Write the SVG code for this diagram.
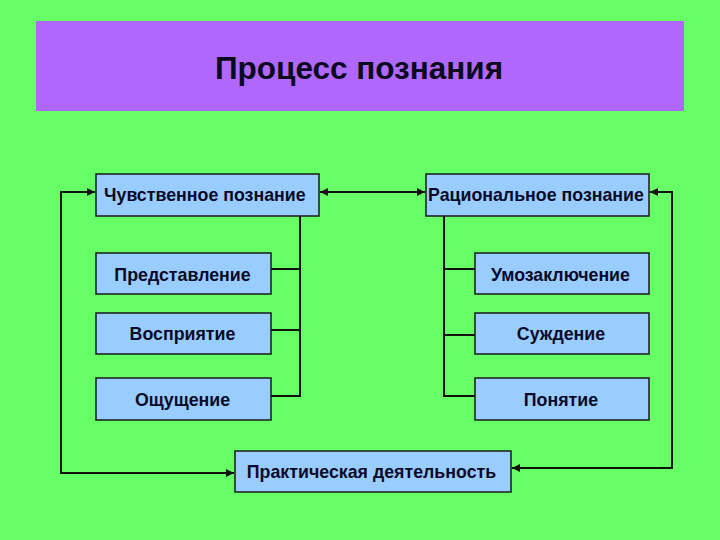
<svg xmlns="http://www.w3.org/2000/svg" width="720" height="540" viewBox="0 0 720 540">
<defs>
<style>
.box{fill:#99ccff;stroke:#1a1a1a;stroke-width:1.5}
.t{font-family:"Liberation Sans",Arial,sans-serif;font-weight:bold;font-size:17.8px;fill:#0a0a28}
.c{text-anchor:middle}
.ln{fill:none;stroke:#111;stroke-width:2}
</style>
<marker id="ah" viewBox="0 0 10 10" refX="10" refY="5" markerWidth="4" markerHeight="4" orient="auto-start-reverse" markerUnits="strokeWidth">
<path d="M0,0 L10,5 L0,10 z" fill="#111"/>
</marker>
</defs>
<rect x="0" y="0" width="720" height="540" fill="#66ff66"/>
<g id="title">
<rect x="36" y="21" width="648" height="90" fill="#b068fa"/>
<text x="359" y="79" text-anchor="middle" font-family="Liberation Sans,Arial,sans-serif" font-weight="bold" font-size="31.5" fill="#0a0a20">Процесс познания</text>
</g>
<g id="connectors">
<line class="ln" x1="320" y1="192" x2="425" y2="192" marker-start="url(#ah)" marker-end="url(#ah)"/>
<polyline class="ln" points="234,473 61,473 61,192 95,192" marker-start="url(#ah)" marker-end="url(#ah)"/>
<polyline class="ln" points="650,192 672,192 672,468 512,468" marker-start="url(#ah)" marker-end="url(#ah)"/>
<polyline class="ln" points="300,216 300,396 271,396"/>
<line class="ln" x1="271" y1="269" x2="300" y2="269"/>
<line class="ln" x1="271" y1="330" x2="300" y2="330"/>
<polyline class="ln" points="444,216 444,396 475,396"/>
<line class="ln" x1="444" y1="269" x2="475" y2="269"/>
<line class="ln" x1="444" y1="335" x2="475" y2="335"/>
</g>
<g id="n-sense">
<rect class="box" x="96" y="174" width="223" height="42"/>
<text class="t" x="104" y="201">Чувственное познание</text>
</g>
<g id="n-rational">
<rect class="box" x="426" y="174" width="223" height="42"/>
<text class="t" x="428" y="201">Рациональное познание</text>
</g>
<g id="n-repr">
<rect class="box" x="96" y="253" width="175" height="41"/>
<text class="t c" x="182.5" y="280.5">Представление</text>
</g>
<g id="n-perc">
<rect class="box" x="96" y="313" width="175" height="41"/>
<text class="t c" x="182.5" y="340">Восприятие</text>
</g>
<g id="n-sens">
<rect class="box" x="96" y="378" width="175" height="42"/>
<text class="t c" x="182.5" y="405.5">Ощущение</text>
</g>
<g id="n-infer">
<rect class="box" x="475" y="253" width="174" height="41"/>
<text class="t c" x="560.5" y="280.5">Умозаключение</text>
</g>
<g id="n-judg">
<rect class="box" x="475" y="313" width="174" height="41"/>
<text class="t c" x="561" y="340">Суждение</text>
</g>
<g id="n-conc">
<rect class="box" x="475" y="378" width="174" height="42"/>
<text class="t c" x="561" y="405.5">Понятие</text>
</g>
<g id="n-practice">
<rect class="box" x="235" y="451" width="276" height="41"/>
<text class="t c" x="371.5" y="478">Практическая деятельность</text>
</g>
</svg>
